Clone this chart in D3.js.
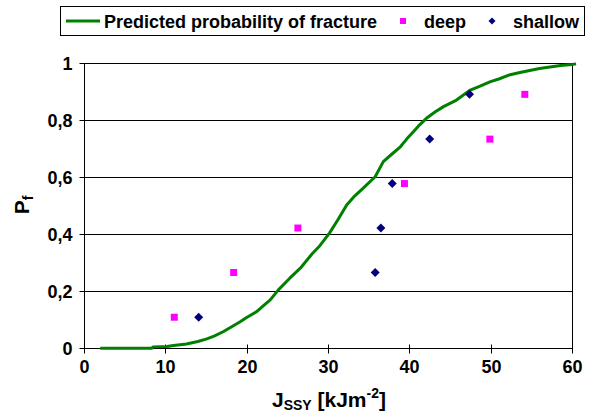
<!DOCTYPE html>
<html><head><meta charset="utf-8">
<script src="https://cdn.jsdelivr.net/npm/d3@7"></script>
<style>body{margin:0;background:#fff}svg{display:block}text{font-family:"Liberation Sans",Arial,sans-serif;font-weight:bold;fill:#000}</style>
</head><body><svg id="c" width="595" height="420"></svg>
<script>
const curveX = [2, 8.3, 8.5, 10.2, 11, 12.6, 14, 15.1, 16, 17.1, 18, 19.2, 20, 21.2, 22, 22.9, 23.9, 25.3, 26.6, 28, 29, 30.2, 31.2, 32.3, 33.3, 34.3, 35.8, 36.8, 37.8, 38.9, 39.7, 40.5, 41.3, 42.1, 43.2, 44.2, 45.8, 47.5, 48.7, 49.9, 51, 52.4, 53.6, 54.8, 56, 57.3, 58.6, 60, 60.5];
const curveP = [0, 0, 0.005, 0.006, 0.01, 0.015, 0.024, 0.033, 0.043, 0.058, 0.073, 0.093, 0.108, 0.128, 0.148, 0.17, 0.205, 0.246, 0.281, 0.33, 0.36, 0.405, 0.45, 0.503, 0.535, 0.561, 0.602, 0.655, 0.68, 0.707, 0.735, 0.76, 0.785, 0.807, 0.83, 0.848, 0.871, 0.906, 0.92, 0.935, 0.945, 0.96, 0.968, 0.975, 0.982, 0.987, 0.992, 0.996, 0.998];
const deepX = [11.1, 18.4, 26.3, 39.4, 49.9, 54.2];
const deepP = [0.109, 0.266, 0.422, 0.578, 0.734, 0.891];
const shallowX = [14.1, 35.8, 36.5, 37.9, 42.5, 47.4];
const shallowP = [0.109, 0.266, 0.422, 0.578, 0.734, 0.891];
const xTicks = [0, 10, 20, 30, 40, 50, 60];
const yTicks = [0, 0.2, 0.4, 0.6, 0.8, 1];
const yTickLabels = ["0", "0,2", "0,4", "0,6", "0,8", "1"];
const legendLabels = ["Predicted probability of fracture", "deep", "shallow"];

const svg = d3.select("#c");
const L = 84, R = 572, T = 63.3, B = 348.3;
const x = d3.scaleLinear().domain([0, 60]).range([L, R]);
const y = d3.scaleLinear().domain([0, 1]).range([B, T]);
const FONT = "'Liberation Sans',Arial,sans-serif";

// gridlines
svg.append("g").selectAll("line").data(yTicks.filter(d => d > 0)).join("line")
  .attr("x1", L).attr("x2", R).attr("y1", d => Math.round(y(d)) + 0.5).attr("y2", d => Math.round(y(d)) + 0.5)
  .attr("stroke", "#000").attr("stroke-width", 1);
// right border
svg.append("line").attr("x1", R + 0.5).attr("x2", R + 0.5).attr("y1", Math.round(T) + 0.5).attr("y2", Math.round(B) + 0.5).attr("stroke", "#000");

// axes
const yAxis = d3.axisLeft(y).tickValues(yTicks).tickSize(5).tickFormat((d, i) => yTickLabels[i]);
const gy = svg.append("g").attr("transform", `translate(${L + 0.5},0.5)`).call(yAxis);
gy.select(".domain").remove();
gy.append("line").attr("x1", 0).attr("x2", 0).attr("y1", Math.round(T)).attr("y2", Math.round(B)).attr("stroke", "#000");
gy.selectAll(".tick line").attr("stroke", "#000");
gy.selectAll(".tick text").attr("x", -12).attr("dy", "0.35em").style("font-size", "18px").style("font-family", FONT).style("font-weight", "bold");
gy.selectAll(".tick").attr("transform", d => `translate(0,${Math.round(y(d))})`);

const xAxis = d3.axisBottom(x).tickValues(xTicks).tickSize(5).tickFormat(d3.format("d"));
const gx = svg.append("g").attr("transform", `translate(0.5,${Math.round(B) + 0.5})`).call(xAxis);
gx.select(".domain").remove();
gx.append("line").attr("x1", Math.round(L)).attr("x2", Math.round(R)).attr("y1", 0).attr("y2", 0).attr("stroke", "#000");
gx.selectAll(".tick line").attr("y1", -4).attr("y2", 5).attr("stroke", "#000");
gx.selectAll(".tick").attr("transform", d => `translate(${Math.round(x(d))},0)`);
gx.selectAll(".tick text").attr("y", 11.5).attr("dy", "0.71em").style("font-size", "18px").style("font-family", FONT).style("font-weight", "bold");

// curve
const pts = curveX.map((d, i) => [d, curveP[i]]);
svg.append("path").datum(pts)
  .attr("d", d3.line().x(d => x(d[0])).y(d => y(d[1])))
  .attr("fill", "none").attr("stroke", "#008000").attr("stroke-width", 3).attr("stroke-linejoin", "round");

// deep squares
svg.append("g").selectAll("rect").data(deepX.map((d, i) => [d, deepP[i]])).join("rect")
  .attr("x", d => x(d[0]) - 3.5).attr("y", d => y(d[1]) - 3.5).attr("width", 7).attr("height", 7).attr("fill", "#FF00FF");
// shallow diamonds
const diamond = "M0,-4.5L4.5,0L0,4.5L-4.5,0Z";
svg.append("g").selectAll("path").data(shallowX.map((d, i) => [d, shallowP[i]])).join("path")
  .attr("d", diamond).attr("transform", d => `translate(${x(d[0])},${y(d[1])})`).attr("fill", "#000080");

// axis titles
const yt = svg.append("text").attr("transform", "translate(29,205) rotate(-90)").attr("text-anchor", "middle").style("font-size", "21px");
yt.append("tspan").text("P");
yt.append("tspan").text("f").style("font-size", "14px").attr("dy", 4);

const xt = svg.append("text").attr("x", 329).attr("y", 407).attr("text-anchor", "middle").style("font-size", "21px");
xt.append("tspan").text("J");
xt.append("tspan").text("SSY").style("font-size", "14px").attr("dy", 3);
xt.append("tspan").text(" [kJm").attr("dy", -3);
xt.append("tspan").text("-2").style("font-size", "14px").attr("dy", -9);
xt.append("tspan").text("]").attr("dy", 9);

// legend
const lg = svg.append("g");
lg.append("rect").attr("x", 60.5).attr("y", 6.5).attr("width", 524).attr("height", 29).attr("fill", "#fff").attr("stroke", "#000");
lg.append("line").attr("x1", 66).attr("x2", 100).attr("y1", 21).attr("y2", 21).attr("stroke", "#008000").attr("stroke-width", 3);
lg.append("text").attr("x", 104).attr("y", 27.5).style("font-size", "18px").text(legendLabels[0]);
lg.append("rect").attr("x", 400).attr("y", 18).attr("width", 6).attr("height", 6).attr("fill", "#FF00FF");
lg.append("text").attr("x", 424).attr("y", 27.5).style("font-size", "18px").text(legendLabels[1]);
lg.append("path").attr("d", "M0,-3.5L3.5,0L0,3.5L-3.5,0Z").attr("transform", "translate(492,21)").attr("fill", "#000080");
lg.append("text").attr("x", 513).attr("y", 27.5).style("font-size", "18px").text(legendLabels[2]);
</script></body></html>
